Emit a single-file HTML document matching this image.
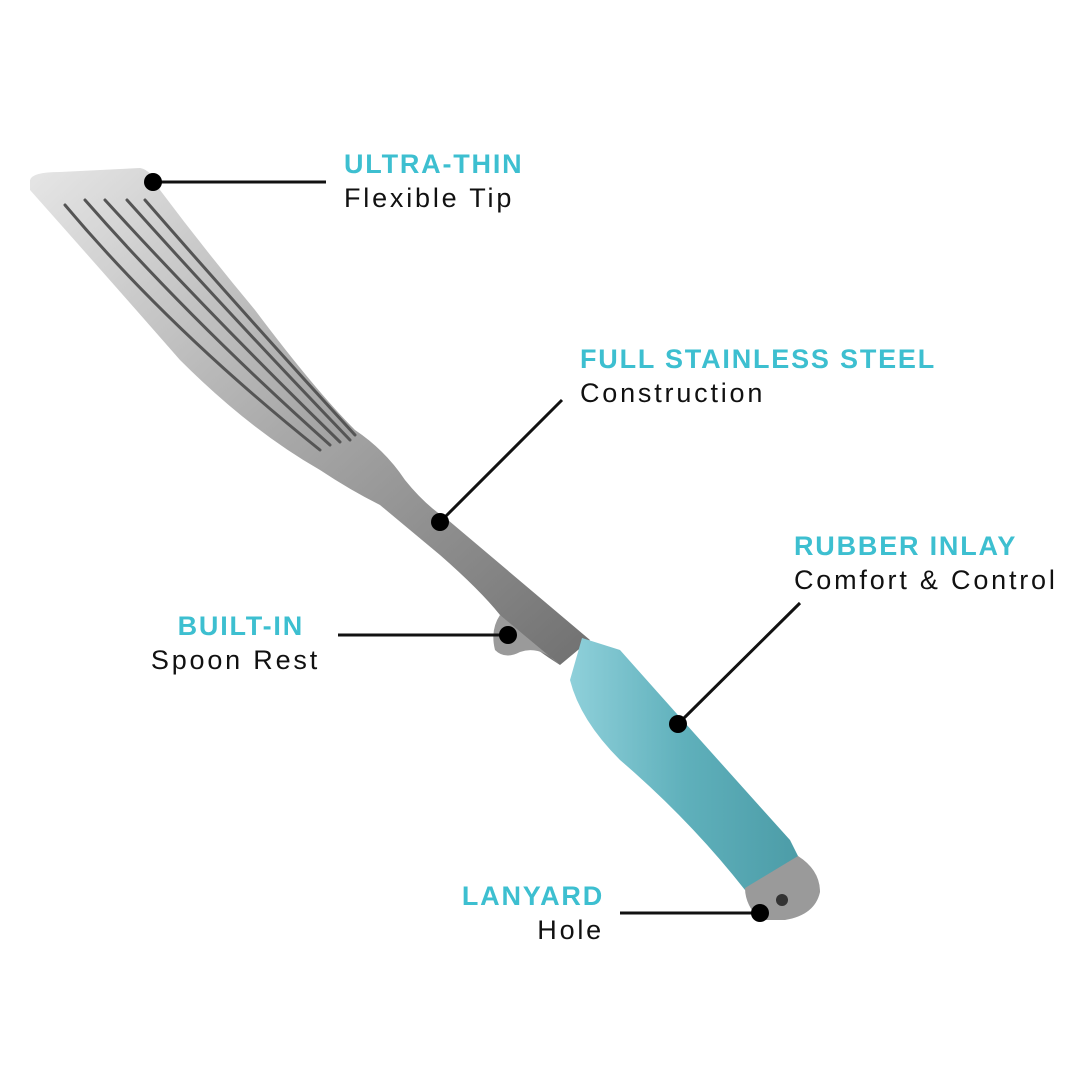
<!DOCTYPE html>
<html><head><style>
body{margin:0;background:#fff;width:1080px;height:1080px;overflow:hidden}
svg{display:block}
.t{font-family:"Liberation Sans",sans-serif;font-size:27px}
.h{fill:#3dbfd0;font-weight:bold;letter-spacing:1.8px}
.b{fill:#111;letter-spacing:2.8px}
</style></head><body>
<svg width="1080" height="1080" viewBox="0 0 1080 1080">
<defs>
<linearGradient id="st" x1="0" y1="0" x2="1" y2="1">
<stop offset="0" stop-color="#e6e6e6"/><stop offset=".5" stop-color="#a8a8a8"/><stop offset="1" stop-color="#707070"/>
</linearGradient>
<linearGradient id="tl" x1="0" y1="0" x2="1" y2="0">
<stop offset="0" stop-color="#8fd0da"/><stop offset=".5" stop-color="#5fb0bb"/><stop offset="1" stop-color="#4c9ca7"/>
</linearGradient>
</defs>
<path d="M30,180 Q32,172 60,172 L140,168 Q152,170 160,190 Q205,250 255,310 Q315,390 355,430 Q385,450 405,480 Q425,505 448,520 L590,640 L560,665 Q520,640 500,615 Q480,590 440,555 Q410,530 380,505 Q350,490 320,470 Q250,430 180,360 Q110,280 30,190 Z" fill="url(#st)"/>
<g stroke="#555" stroke-width="3" fill="none" stroke-linecap="round">
<path d="M65,205 Q170,330 320,450"/>
<path d="M85,200 Q190,320 330,445"/>
<path d="M105,200 Q210,315 340,442"/>
<path d="M127,200 Q230,315 350,440"/>
<path d="M145,200 Q245,315 355,435"/>
</g>
<path d="M500,615 Q490,630 495,650 Q505,660 520,652 Q540,645 560,665 Z" fill="#9a9a9a"/>
<path d="M582,638 L620,650 Q700,740 790,840 L800,860 L745,890 Q690,820 620,760 Q580,720 570,680 Z" fill="url(#tl)"/>
<path d="M745,888 L798,856 Q820,870 820,892 Q815,915 785,920 L760,920 Q745,905 745,888 Z" fill="#9a9a9a"/>
<circle cx="782" cy="900" r="6" fill="#333"/>
<g stroke="#111" stroke-width="3" fill="none">
<line x1="153" y1="182" x2="326" y2="182"/>
<line x1="440" y1="522" x2="562" y2="400"/>
<line x1="338" y1="635" x2="508" y2="635"/>
<line x1="678" y1="724" x2="800" y2="603"/>
<line x1="620" y1="913" x2="760" y2="913"/>
</g>
<g fill="#000">
<circle cx="153" cy="182" r="9"/><circle cx="440" cy="522" r="9"/>
<circle cx="508" cy="635" r="9"/><circle cx="678" cy="724" r="9"/>
<circle cx="760" cy="913" r="9"/>
</g>
<text class="t h" x="344" y="173">ULTRA-THIN</text>
<text class="t b" x="344" y="207">Flexible Tip</text>
<text class="t h" x="580" y="368">FULL STAINLESS STEEL</text>
<text class="t b" x="580" y="402">Construction</text>
<text class="t h" x="794" y="555">RUBBER INLAY</text>
<text class="t b" x="794" y="589">Comfort &amp; Control</text>
<text class="t h" x="304" y="635" text-anchor="end">BUILT-IN</text>
<text class="t b" x="320" y="669" text-anchor="end">Spoon Rest</text>
<text class="t h" x="604" y="905" text-anchor="end">LANYARD</text>
<text class="t b" x="604" y="939" text-anchor="end">Hole</text>
</svg>
</body></html>
